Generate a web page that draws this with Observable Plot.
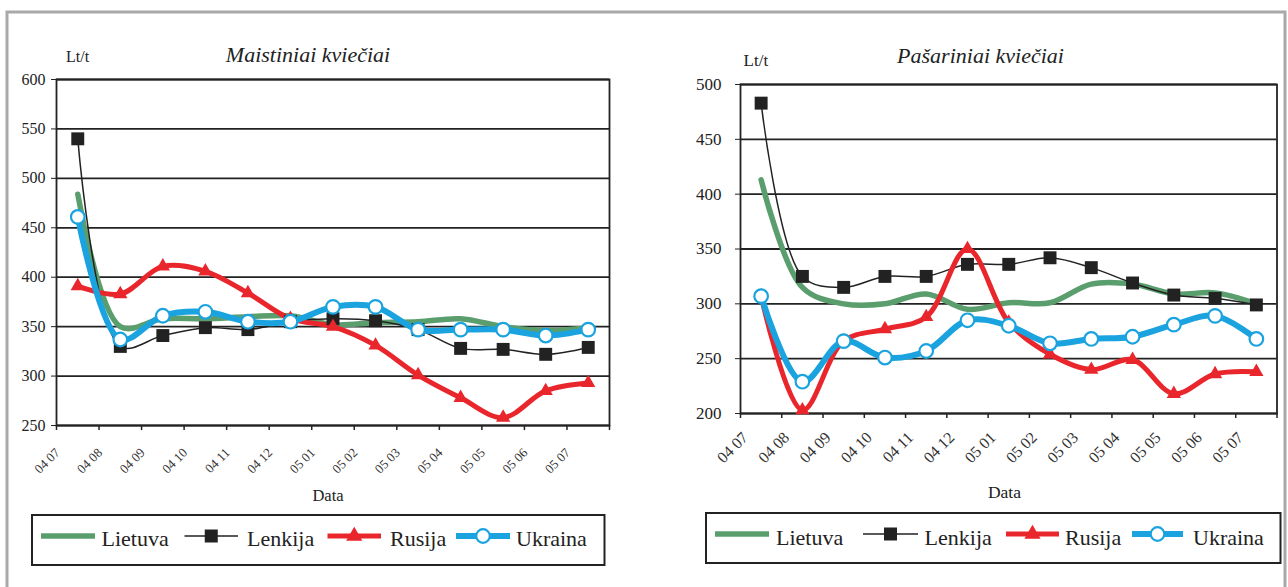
<!DOCTYPE html>
<html><head><meta charset="utf-8">
<script src="https://cdn.jsdelivr.net/npm/d3@7"></script>
<script src="https://cdn.jsdelivr.net/npm/@observablehq/plot@0.6"></script>
<style>
html,body{margin:0;padding:0;background:#fff;}
#root{position:relative;width:1288px;height:587px;overflow:hidden;font-family:"Liberation Serif","Times New Roman",serif;}
#root > svg{position:absolute;}
#root svg text{font-family:"Liberation Serif","Times New Roman",serif;}
</style></head><body><div id="root"></div>
<script>
// ---- data ----
const months = ["04 07","04 08","04 09","04 10","04 11","04 12","05 01","05 02","05 03","05 04","05 05","05 06","05 07"];
const seriesNames = ["Lietuva","Lenkija","Rusija","Ukraina"];

// Maistiniai kviečiai (Lt/t)
const maistLietuva = [484, 350, 358, 358, 360, 361, 352, 354, 355, 358, 350, 346, 349];
const maistLenkija = [540, 330, 341, 349, 347, 355, 358, 356, 347, 328, 327, 322, 329];
const maistRusija  = [391, 383, 411, 406, 384, 358, 350, 331, 301, 278, 258, 285, 293];
const maistUkraina = [461, 337, 361, 365, 355, 355, 370, 370, 347, 347, 347, 341, 347];
const maistTicks = [250, 300, 350, 400, 450, 500, 550, 600];

// Pašariniai kviečiai (Lt/t)
const pasLietuva = [413, 315, 300, 300, 309, 295, 301, 301, 318, 318, 309, 310, 300];
const pasLenkija = [483, 325, 315, 325, 325, 336, 336, 342, 333, 319, 308, 305, 299];
const pasRusija  = [307, 203, 266, 277, 288, 350, 283, 254, 240, 249, 218, 236, 238];
const pasUkraina = [307, 229, 266, 251, 257, 285, 280, 264, 268, 270, 281, 289, 268];
const pasTicks = [200, 250, 300, 350, 400, 450, 500];

// ---- styles ----
const FONT = '"Liberation Serif","Times New Roman",serif';
const colors = {Lietuva:"#5a9e6e", Lenkija:"#222222", Rusija:"#e9262c", Ukraina:"#1ba3df"};
const widths = {Lietuva:5.5, Lenkija:1.5, Rusija:5, Ukraina:6};

function tidy(arrs){
  const rows = [];
  seriesNames.forEach((s, k) => arrs[k].forEach((v, i) => rows.push({series:s, i, month:months[i], value:v})));
  return rows;
}

function chart(o){
  const rows = tidy(o.arrs);
  const of = s => rows.filter(d => d.series === s);
  const X = d => d.i + 0.5;
  return Plot.plot({
    width:o.width, height:o.height,
    marginLeft:o.mL, marginRight:o.mR, marginTop:o.mT, marginBottom:o.mB,
    x:{domain:[0,13], axis:null},
    y:{domain:o.yDomain, axis:null},
    style:`font-family:${FONT};color:#222;background:transparent;overflow:visible;`,
    marks:[
      Plot.ruleY(o.yTicks, {stroke:"#222", strokeWidth:1.8}),
      Plot.frame({stroke:"#222", strokeWidth:1.8}),
      Plot.axisY({ticks:o.yTicks, tickSize:5, tickPadding:o.yPad, fontSize:o.yFont, fontFamily:FONT, label:null, tickFormat:d=>String(d), stroke:"#222"}),
      Plot.axisX({ticks:d3.range(0,14), tickSize:5, tickFormat:()=>"", label:null, stroke:"#222", strokeWidth:1.5}),
      Plot.text(months, {x:(d,i)=>i, frameAnchor:"bottom", text:d=>d, rotate:-45, textAnchor:"end",
        dx:o.xdx, dy:o.xdy, fontSize:o.xFont, fontFamily:FONT, fill:"#333"}),
      ...seriesNames.map(s => Plot.line(of(s), {x:X, y:"value", stroke:colors[s], strokeWidth:widths[s], curve:"catmull-rom"})),
      Plot.dot(of("Lenkija"), {x:X, y:"value", symbol:"square", r:7.3, fill:"#222"}),
      Plot.dot(of("Rusija"), {x:X, y:"value", symbol:"triangle", r:5.3, fill:colors.Rusija}),
      Plot.dot(of("Ukraina"), {x:X, y:"value", symbol:"circle", r:6.8, fill:"#fff", stroke:colors.Ukraina, strokeWidth:2.2})
    ]
  });
}

const root = document.getElementById("root");

const left = chart({arrs:[maistLietuva, maistLenkija, maistRusija, maistUkraina], yDomain:[250,600], yTicks:maistTicks,
  width:640, height:500, mL:56, mR:31, mT:79, mB:75, yFont:16, yPad:6, xFont:13, xdx:4, xdy:28});
left.style.left = "0px"; left.style.top = "0px";
root.appendChild(left);

const right = chart({arrs:[pasLietuva, pasLenkija, pasRusija, pasUkraina], yDomain:[200,500], yTicks:pasTicks,
  width:638, height:500, mL:90, mR:11.5, mT:84, mB:87, yFont:17, yPad:14, xFont:16, xdx:8.5, xdy:25});
right.style.left = "650px"; right.style.top = "0px";
root.appendChild(right);

// ---- overlay: frame, titles, axis names, legends ----
const ov = d3.select(root).append("svg").attr("width",1288).attr("height",587)
  .style("left","0px").style("top","0px").style("font-family",FONT);

ov.append("path").attr("d","M7,600 V12 H1285 V600").attr("fill","none").attr("stroke","#a9a9a9").attr("stroke-width",3);

const texts = [
  {t:"Maistiniai kviečiai", x:308, y:62, size:22, anchor:"middle", italic:true},
  {t:"Pašariniai kviečiai", x:980.5, y:63, size:22, anchor:"middle", italic:true},
  {t:"Lt/t", x:66, y:62, size:16, anchor:"start"},
  {t:"Lt/t", x:743.6, y:66, size:17, anchor:"start"},
  {t:"Data", x:328, y:501, size:16.5, anchor:"middle"},
  {t:"Data", x:1004.5, y:498, size:17.5, anchor:"middle"}
];
texts.forEach(d => ov.append("text").attr("x",d.x).attr("y",d.y).attr("font-size",d.size)
  .attr("text-anchor",d.anchor).attr("font-style",d.italic?"italic":null).attr("fill","#222").text(d.t));

function legend(box, items, cy, baseline){
  ov.append("rect").attr("x",box[0]).attr("y",box[1]).attr("width",box[2]).attr("height",box[3])
    .attr("fill","none").attr("stroke","#222").attr("stroke-width",2);
  items.forEach((it, k) => {
    const s = seriesNames[k];
    const g = ov.append("g");
    g.append("line").attr("x1",it.x1).attr("x2",it.x2).attr("y1",cy).attr("y2",cy)
      .attr("stroke",colors[s]).attr("stroke-width",widths[s]);
    const mx = (it.x1 + it.x2) / 2;
    if (s === "Lenkija") g.append("rect").attr("x",mx-6.5).attr("y",cy-6.5).attr("width",13).attr("height",13).attr("fill","#222");
    if (s === "Rusija") g.append("path").attr("d",d3.symbol(d3.symbolTriangle, Math.PI*6*6)()).attr("transform",`translate(${mx},${cy})`).attr("fill",colors.Rusija);
    if (s === "Ukraina") g.append("circle").attr("cx",mx).attr("cy",cy).attr("r",6.8).attr("fill","#fff").attr("stroke",colors.Ukraina).attr("stroke-width",2.2);
    g.append("text").attr("x",it.tx).attr("y",baseline).attr("font-size",22).attr("fill","#222").text(s);
  });
}
legend([32,515,572.5,50], [
  {x1:41, x2:95, tx:101.5}, {x1:184.5, x2:238, tx:247}, {x1:327.5, x2:381, tx:390}, {x1:456, x2:510, tx:516}
], 536, 546);
legend([706,513,574.5,50], [
  {x1:715, x2:769, tx:776}, {x1:863, x2:918, tx:924.6}, {x1:1006, x2:1059, tx:1065}, {x1:1132, x2:1183, tx:1193}
], 534, 545);
</script></body></html>
